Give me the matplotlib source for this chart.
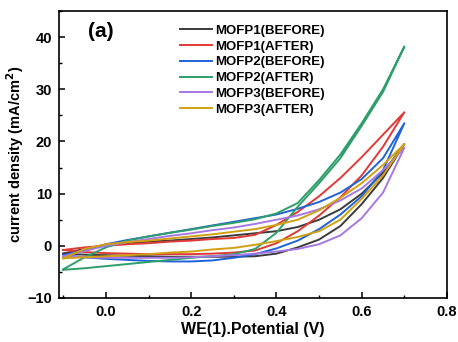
import matplotlib
matplotlib.use("Agg")
import matplotlib.pyplot as plt
from matplotlib.ticker import MultipleLocator

plt.rcParams['font.family'] = ['Liberation Sans', 'DejaVu Sans']
plt.rcParams['font.weight'] = 'bold'

""" CV loops read off the picture: upper and lower branch for each sample """

x_pts = [-0.1, -0.05, 0.0, 0.05, 0.1, 0.15, 0.2, 0.25, 0.3, 0.35, 0.4, 0.45, 0.5, 0.55, 0.6, 0.65, 0.7]

mofp1_before_up = [-1.5, -0.6, 0.2, 0.5, 0.8, 1.0, 1.3, 1.6, 2.0, 2.4, 2.8, 3.6, 5.0, 7.0, 10.0, 14.0, 19.5]
mofp1_before_dn = [-1.5, -1.7, -1.8, -1.9, -2.0, -2.1, -2.1, -2.1, -2.1, -2.0, -1.5, -0.3, 1.2, 3.8, 8.0, 13.0, 19.5]

mofp1_after_up = [-0.8, -0.3, 0.0, 0.3, 0.5, 0.8, 1.0, 1.3, 1.5, 2.1, 4.0, 6.5, 9.5, 13.0, 17.0, 21.3, 25.6]
mofp1_after_dn = [-0.8, -1.2, -1.4, -1.5, -1.6, -1.6, -1.6, -1.5, -1.3, -0.9, 0.5, 2.8, 5.8, 9.3, 13.5, 19.0, 25.6]

mofp2_before_up = [-1.8, -0.9, 0.3, 1.1, 1.8, 2.5, 3.2, 3.9, 4.6, 5.3, 6.0, 7.1, 8.4, 10.2, 12.8, 16.8, 23.5]
mofp2_before_dn = [-1.8, -2.2, -2.5, -2.7, -2.9, -3.0, -3.0, -2.8, -2.3, -1.6, -0.5, 1.0, 3.2, 6.0, 9.5, 14.5, 23.5]

mofp2_after_up = [-4.5, -2.2, -0.3, 1.0, 1.8, 2.5, 3.1, 3.8, 4.4, 5.1, 6.2, 8.2, 12.6, 17.5, 23.5, 30.0, 38.2]
mofp2_after_dn = [-4.6, -4.3, -3.9, -3.5, -3.1, -2.7, -2.3, -2.0, -1.6, -0.6, 2.5, 7.5, 12.0, 16.8, 23.0, 29.5, 38.2]

mofp3_before_up = [-2.0, -1.0, 0.0, 0.7, 1.3, 1.9, 2.4, 3.0, 3.5, 4.2, 5.0, 5.8, 7.0, 8.7, 11.0, 14.5, 18.8]
mofp3_before_dn = [-2.0, -2.2, -2.3, -2.3, -2.3, -2.3, -2.2, -2.0, -1.8, -1.5, -1.1, -0.6, 0.3, 2.0, 5.3, 10.2, 18.8]

mofp3_after_up = [-2.4, -0.6, 0.3, 0.7, 1.0, 1.4, 1.8, 2.2, 2.7, 3.2, 4.0, 5.0, 6.8, 9.2, 12.0, 15.5, 19.5]
mofp3_after_dn = [-2.4, -2.2, -2.0, -1.8, -1.6, -1.3, -1.1, -0.7, -0.4, 0.2, 0.9, 1.7, 2.8, 5.0, 9.0, 13.5, 19.5]

labels = ["MOFP1(BEFORE)", "MOFP1(AFTER)", "MOFP2(BEFORE)",
          "MOFP2(AFTER)", "MOFP3(BEFORE)", "MOFP3(AFTER)"]
colors = ["#3b3b3b", "#e03a35", "#1f63d8", "#2e9e6a", "#a678e3", "#d1a012"]

loops = [(mofp1_before_up, mofp1_before_dn),
         (mofp1_after_up, mofp1_after_dn),
         (mofp2_before_up, mofp2_before_dn),
         (mofp2_after_up, mofp2_after_dn),
         (mofp3_before_up, mofp3_before_dn),
         (mofp3_after_up, mofp3_after_dn)]

fig = plt.figure(figsize=(4.58, 3.42), dpi=100)
ax = fig.add_axes([0.1288, 0.1287, 0.8472, 0.8391])

for (up, dn), lab, c in zip(loops, labels, colors):
    # forward scan then back again, so one closed loop per sample
    xs = x_pts + x_pts[::-1]
    ys = up + dn[::-1]
    ax.plot(xs, ys, color=c, lw=1.4, label=lab)

ax.set_xlim(-0.11, 0.8)
ax.set_ylim(-10, 45)
ax.xaxis.set_major_locator(MultipleLocator(0.2))
ax.xaxis.set_minor_locator(MultipleLocator(0.1))
ax.yaxis.set_major_locator(MultipleLocator(10))
ax.yaxis.set_minor_locator(MultipleLocator(5))
ax.xaxis.set_major_formatter(plt.FuncFormatter(lambda v, p: "%.1f" % v))
ax.tick_params(which='major', direction='in', length=4, width=1.1, labelsize=10.5, pad=5)
ax.tick_params(which='minor', direction='in', length=2.5, width=1.0)
for s in ax.spines.values():
    s.set_linewidth(1.2)

ax.set_xlabel("WE(1).Potential (V)", fontsize=11.5, fontweight='bold', labelpad=2)
ax.set_ylabel("current density (mA/cm$^\\mathbf{2}$)", fontsize=10.5, fontweight='bold', labelpad=1)
ax.text(0.074, 0.96, "(a)", transform=ax.transAxes, fontsize=15, fontweight='bold', va='top')

leg = ax.legend(loc='upper left', bbox_to_anchor=(0.312, 0.953), frameon=False,
                fontsize=9.5, handlelength=2.4, handletextpad=0.25, labelspacing=0.27,
                borderpad=0, borderaxespad=0)
for t in leg.get_texts():
    t.set_fontweight('bold')

fig.savefig("out.png", dpi=100)
